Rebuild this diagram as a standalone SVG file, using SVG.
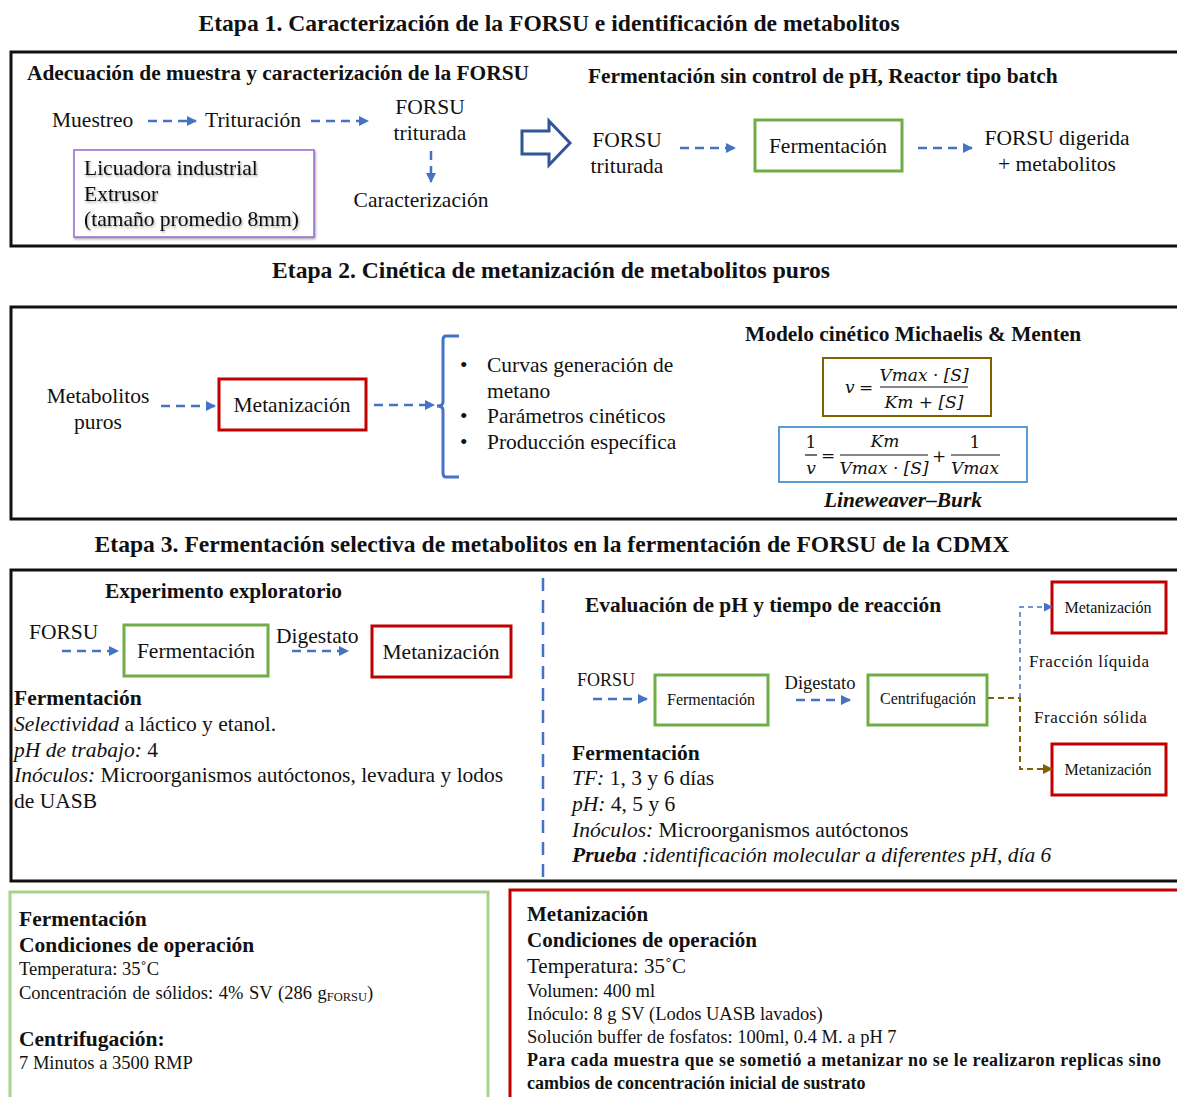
<svg xmlns="http://www.w3.org/2000/svg" width="1177" height="1097" viewBox="0 0 1177 1097">
<defs>
<style>
text{font-family:"Liberation Serif","Times New Roman",serif;fill:#111}
.t{font-size:23.6px;font-weight:bold;text-anchor:middle}
.h{font-size:21.4px;font-weight:bold}
.n{font-size:21.5px}
.s{font-size:16px}
.m{font-family:"DejaVu Serif","Liberation Serif",serif;font-style:italic;font-size:17px}
.mn{font-family:"DejaVu Serif","Liberation Serif",serif;font-size:17px}
.frame{fill:none;stroke:#111;stroke-width:3}
.g{fill:#fff;stroke:#70ad47;stroke-width:3}
.r{fill:#fff;stroke:#c00000;stroke-width:3}
.da{fill:none;stroke:#4472c4;stroke-width:2.5;stroke-dasharray:9 6}
.db{fill:none;stroke:#4472c4;stroke-width:1.5;stroke-dasharray:5 4}
.dbr{fill:none;stroke:#806000;stroke-width:2;stroke-dasharray:6 4}
.c{text-anchor:middle}
.sh{filter:url(#shadow)}
</style>
<filter id="shadow" x="-5%" y="-20%" width="110%" height="140%"><feDropShadow dx="1" dy="1.5" stdDeviation="0.8" flood-color="#000" flood-opacity="0.35"/></filter>
<marker id="ab" viewBox="0 0 10 10" refX="9" refY="5" markerWidth="4" markerHeight="4" orient="auto"><path d="M0,0 L10,5 L0,10 z" fill="#4472c4"/></marker>
<marker id="abs" viewBox="0 0 10 10" refX="9" refY="5" markerWidth="6" markerHeight="6" orient="auto"><path d="M0,0 L10,5 L0,10 z" fill="#4472c4"/></marker>
<marker id="abr" viewBox="0 0 10 10" refX="9" refY="5" markerWidth="5" markerHeight="5" orient="auto"><path d="M0,0 L10,5 L0,10 z" fill="#806000"/></marker>
</defs>
<rect width="1177" height="1097" fill="#fff"/>

<!-- Titles -->
<text class="t" x="549" y="31">Etapa 1. Caracterización de la FORSU e identificación de metabolitos</text>
<text class="t" x="551" y="278">Etapa 2. Cinética de metanización de metabolitos puros</text>
<text class="t" x="552" y="552">Etapa 3. Fermentación selectiva de metabolitos en la fermentación de FORSU de la CDMX</text>

<!-- Frames -->
<rect class="frame" x="11" y="52" width="1180" height="194"/>
<rect class="frame" x="11" y="307" width="1180" height="212"/>
<rect class="frame" x="11" y="570" width="1180" height="311"/>
<line x1="543" y1="578" x2="543" y2="880" stroke="#4472c4" stroke-width="2.5" stroke-dasharray="13 9"/>

<!-- Etapa 1 -->
<g id="n_adecuacion">
<text class="h" x="27" y="80">Adecuación de muestra y caracterización de la FORSU</text>
</g>
<g id="n_muestreo"><text class="n" x="52" y="127">Muestreo</text></g>
<g id="n_trituracion"><text class="n" x="205" y="127">Trituración</text></g>
<g id="n_forsu_trit"><text class="n c" x="430" y="114">FORSU</text><text class="n c" x="430" y="140">triturada</text></g>
<g id="n_caracterizacion"><text class="n c" x="421" y="207">Caracterización</text></g>
<g id="n_licuadora">
<rect x="74" y="150" width="240" height="87" fill="#fff" stroke="#9966cc" stroke-width="1.5" class="sh"/>
<text class="n sh" x="84" y="175">Licuadora industrial</text>
<text class="n sh" x="84" y="201">Extrusor</text>
<text class="n sh" x="84" y="226">(tamaño promedio 8mm)</text>
</g>
<g id="n_bigarrow">
<path d="M522,131 L549,131 L549,121 L570,143 L549,165 L549,154 L522,154 Z" fill="#fff" stroke="#2f5597" stroke-width="3" stroke-linejoin="miter"/>
</g>
<g id="n_fsc"><text class="h" x="588" y="83">Fermentación sin control de pH, Reactor tipo batch</text></g>
<g id="n_forsu_trit2"><text class="n c" x="627" y="147">FORSU</text><text class="n c" x="627" y="173">triturada</text></g>
<g id="n_ferm1"><rect class="g" x="755" y="120" width="147" height="51"/><text class="n c" x="828" y="153">Fermentación</text></g>
<g id="n_digerida"><text class="n c" x="1057" y="145">FORSU digerida</text><text class="n c" x="1057" y="171">+ metabolitos</text></g>

<!-- Etapa 2 -->
<g id="n_metabolitos"><text class="n c" x="98" y="403">Metabolitos</text><text class="n c" x="98" y="429">puros</text></g>
<g id="n_metan2"><rect class="r" x="219" y="379" width="147" height="51"/><text class="n c" x="292" y="412">Metanización</text></g>
<g id="n_brace">
<path d="M459,336 L446,336 Q443,336 443,340 L443,402 Q443,406 437,406 Q443,406 443,410 L443,473 Q443,477 446,477 L459,477" fill="none" stroke="#4472c4" stroke-width="3"/>
</g>
<g id="n_list">
<text class="n" x="460" y="372">•</text><text class="n" x="487" y="372">Curvas generación de</text>
<text class="n" x="487" y="398">metano</text>
<text class="n" x="460" y="423">•</text><text class="n" x="487" y="423">Parámetros cinéticos</text>
<text class="n" x="460" y="449">•</text><text class="n" x="487" y="449">Producción específica</text>
</g>
<g id="n_modelo"><text class="h" x="745" y="341">Modelo cinético Michaelis &amp; Menten</text></g>
<g id="n_mm">
<rect x="823" y="358" width="168" height="58" fill="#fff" stroke="#806000" stroke-width="2"/>
<text class="m" x="845" y="393">v</text><text class="mn" x="859" y="393">=</text>
<text class="m c" x="924" y="381">Vmax · [S]</text>
<line x1="880" y1="387" x2="968" y2="387" stroke="#111" stroke-width="1.2"/>
<text class="m c" x="924" y="408">Km + [S]</text>
</g>
<g id="n_lb">
<rect x="779" y="427" width="248" height="55" fill="#fff" stroke="#5b9bd5" stroke-width="2"/>
<text class="mn c" x="811" y="448">1</text>
<line x1="805" y1="455" x2="817" y2="455" stroke="#111" stroke-width="1.2"/>
<text class="m c" x="811" y="474">v</text>
<text class="mn c" x="828" y="461">=</text>
<text class="m c" x="885" y="447">Km</text>
<line x1="840" y1="455" x2="928" y2="455" stroke="#111" stroke-width="1.2"/>
<text class="m c" x="884" y="474">Vmax · [S]</text>
<text class="mn c" x="939" y="462">+</text>
<text class="mn c" x="975" y="448">1</text>
<line x1="951" y1="455" x2="1000" y2="455" stroke="#111" stroke-width="1.2"/>
<text class="m c" x="975" y="474">Vmax</text>
<text class="h c" x="903" y="507" font-style="italic">Lineweaver–Burk</text>
</g>

<!-- Etapa 3 left -->
<g id="n_exp"><text class="h" x="105" y="598">Experimento exploratorio</text></g>
<g id="n_forsu3"><text class="n" x="29" y="639">FORSU</text></g>
<g id="n_ferm3"><rect class="g" x="124" y="625" width="144" height="51"/><text class="n c" x="196" y="658">Fermentación</text></g>
<g id="n_dig3"><text class="n" x="276" y="643">Digestato</text></g>
<g id="n_metan3"><rect class="r" x="372" y="626" width="139" height="51"/><text class="n c" x="441" y="659">Metanización</text></g>
<g id="n_ferm3_desc">
<text class="n" x="14" y="705" font-weight="bold">Fermentación</text>
<text class="n" x="14" y="731"><tspan font-style="italic">Selectividad</tspan> a láctico y etanol.</text>
<text class="n" x="14" y="757"><tspan font-style="italic">pH de trabajo:</tspan> 4</text>
<text class="n" x="14" y="782"><tspan font-style="italic">Inóculos:</tspan> Microorganismos autóctonos, levadura y lodos</text>
<text class="n" x="14" y="808">de UASB</text>
</g>

<!-- Etapa 3 right -->
<g id="n_eval"><text class="h" x="585" y="612">Evaluación de pH y tiempo de reacción</text></g>
<g id="n_forsu4"><text x="577" y="686" font-size="18">FORSU</text></g>
<g id="n_ferm4"><rect class="g" x="655" y="675" width="113" height="50"/><text class="s c" x="711" y="705">Fermentación</text></g>
<g id="n_dig4"><text class="c" x="820" y="689" font-size="18.5">Digestato</text></g>
<g id="n_centri"><rect class="g" x="868" y="675" width="119" height="50"/><text class="s c" x="928" y="704">Centrifugación</text></g>
<g id="n_metan4a"><rect class="r" x="1052" y="582" width="114" height="51"/><text class="s c" x="1108" y="613">Metanización</text></g>
<g id="n_metan4b"><rect class="r" x="1052" y="744" width="114" height="51"/><text class="s c" x="1108" y="775">Metanización</text></g>
<g id="n_fliq"><text x="1029" y="667" font-size="17" letter-spacing="0.6">Fracción líquida</text></g>
<g id="n_fsol"><text x="1034" y="723" font-size="17" letter-spacing="0.6">Fracción sólida</text></g>
<g id="n_ferm4_desc">
<text class="n" x="572" y="760" font-weight="bold">Fermentación</text>
<text class="n" x="572" y="785"><tspan font-style="italic">TF:</tspan> 1, 3 y 6 días</text>
<text class="n" x="572" y="811"><tspan font-style="italic">pH:</tspan> 4, 5 y 6</text>
<text class="n" x="572" y="837"><tspan font-style="italic">Inóculos:</tspan> Microorganismos autóctonos</text>
<text class="n" x="572" y="862" font-style="italic"><tspan font-weight="bold">Prueba</tspan> :identificación molecular a diferentes pH, día 6</text>
</g>

<!-- Bottom boxes -->
<g id="n_cond_ferm">
<rect x="10" y="892" width="478" height="210" fill="none" stroke="#a9d18e" stroke-width="3"/>
<text class="n" x="19" y="926" font-weight="bold">Fermentación</text>
<text class="n" x="19" y="952" font-weight="bold">Condiciones de operación</text>
<text x="19" y="975" font-size="18.5">Temperatura: 35˚C</text>
<text x="19" y="999" font-size="18.5" word-spacing="1">Concentración de sólidos: 4% SV (286 g<tspan font-size="12.5" dy="2">FORSU</tspan><tspan dy="-2">)</tspan></text>
<text class="n" x="19" y="1046" font-weight="bold">Centrifugación:</text>
<text x="19" y="1069" font-size="18.5">7 Minutos a 3500 RMP</text>
</g>
<g id="n_cond_metan">
<rect x="510" y="890" width="680" height="212" fill="none" stroke="#c00000" stroke-width="3"/>
<text x="527" y="921" font-size="21" font-weight="bold">Metanización</text>
<text x="527" y="947" font-size="21" font-weight="bold">Condiciones de operación</text>
<text x="527" y="973" font-size="21">Temperatura: 35˚C</text>
<text x="527" y="997" font-size="18.5">Volumen: 400 ml</text>
<text x="527" y="1020" font-size="18.5">Inóculo: 8 g SV (Lodos UASB lavados)</text>
<text x="527" y="1043" font-size="18.5">Solución buffer de fosfatos: 100ml, 0.4 M. a pH 7</text>
<text x="527" y="1066" font-size="18" font-weight="bold" textLength="634" lengthAdjust="spacing">Para cada muestra que se sometió a metanizar no se le realizaron replicas sino</text>
<text x="527" y="1089" font-size="18" font-weight="bold">cambios de concentración inicial de sustrato</text>
</g>

<!-- Connectors -->
<g id="connectors">
<line class="da" x1="148" y1="121" x2="196" y2="121" marker-end="url(#ab)"/>
<line class="da" x1="311" y1="121" x2="368" y2="121" marker-end="url(#ab)"/>
<line class="da" x1="431" y1="151" x2="431" y2="182" marker-end="url(#ab)"/>
<line class="da" x1="680" y1="148" x2="735" y2="148" marker-end="url(#ab)"/>
<line class="da" x1="918" y1="148" x2="972" y2="148" marker-end="url(#ab)"/>
<line class="da" x1="161" y1="406" x2="215" y2="406" marker-end="url(#ab)"/>
<line class="da" x1="374" y1="405" x2="434" y2="405" marker-end="url(#ab)"/>
<line class="da" x1="62" y1="651" x2="118" y2="651" marker-end="url(#ab)"/>
<line class="da" x1="292" y1="651" x2="348" y2="651" marker-end="url(#ab)"/>
<line class="da" x1="593" y1="699" x2="647" y2="699" marker-end="url(#ab)"/>
<line class="da" x1="796" y1="700" x2="850" y2="700" marker-end="url(#ab)"/>
<polyline class="db" points="1020,698 1020,607 1052,607" marker-end="url(#abs)"/>
<polyline class="dbr" points="988,698 1020,698 1020,769 1052,769" marker-end="url(#abr)"/>
</g>
</svg>
